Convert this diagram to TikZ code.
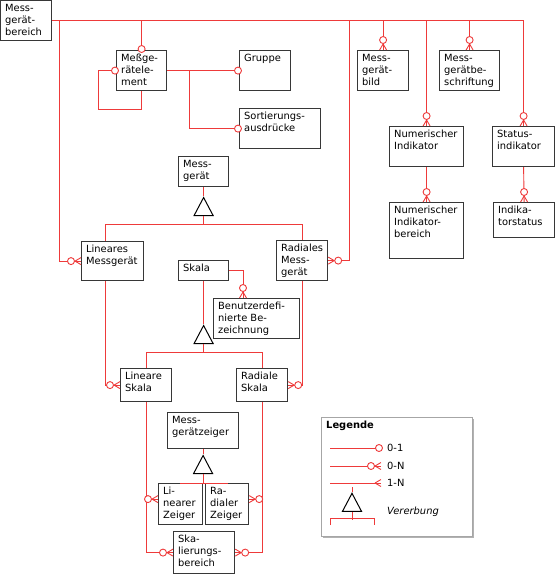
\documentclass[tikz,border=0pt]{standalone}
\usepackage{fontspec}
\setmainfont{DejaVu Sans}
\usetikzlibrary{shapes.geometric}
\definecolor{relrot}{RGB}{238,58,58}
\definecolor{rahmen}{RGB}{55,55,55}
\newcommand{\schrift}{\fontsize{9.9}{12}\selectfont}

\tikzset{
	kasten/.style 2 args={draw=rahmen, line width=1.2pt, fill=white, anchor=north west, minimum width=#1, minimum height=#2, inner sep=0pt},
	txt/.style={anchor=north west, align=left, inner xsep=5pt, inner ysep=4pt, font=\schrift},
	rel/.style={draw=relrot, line width=0.9pt},
	vererb/.style={isosceles triangle, shape border rotate=90, isosceles triangle stretches, draw=black, line width=1pt, fill=white, minimum width=19pt, minimum height=18pt, inner sep=0pt, anchor=apex},
	pics/nullN/.style={code={
		\draw[relrot, line width=0.9pt] (-6,0) -- (0,3.5) (-6,0) -- (0,-3.5);
		\draw[relrot, line width=0.9pt, fill=white] (-10,0) circle (3.5pt);}},
	pics/einsN/.style={code={
		\draw[relrot, line width=0.9pt] (-6,0) -- (0,3.5) (-6,0) -- (0,-3.5);}},
	pics/null1/.style={code={
		\draw[relrot, line width=0.9pt, fill=white] (-1,0) circle (3.5pt);}},
}

\begin{document}
\begin{tikzpicture}[x=1pt, y=-1pt]
	\useasboundingbox (0,0) rectangle (556,574);
	% Kaesten
	\node[kasten={51}{40}, label={[txt]north west:Mess-\\gerät-\\bereich}] (bereich) at (0,0) {};
	\node[kasten={50}{40}, label={[txt]north west:Meßge-\\rätele-\\ment}] (elem) at (116,50) {};
	\node[kasten={51}{40}, label={[txt]north west:Gruppe}] (gruppe) at (239,50) {};
	\node[kasten={81}{40}, label={[txt]north west:Sortierungs-\\ausdrücke}] (sort) at (239,108) {};
	\node[kasten={51}{40}, label={[txt]north west:Mess-\\gerät-\\bild}] (bild) at (357,50) {};
	\node[kasten={60}{40}, label={[txt]north west:Mess-\\gerätbe-\\schriftung}] (beschr) at (439,50) {};
	\node[kasten={74}{40}, label={[txt]north west:Numerischer\\Indikator}] (numind) at (389,126) {};
	\node[kasten={62}{40}, label={[txt]north west:Status-\\indikator}] (statind) at (492,126) {};
	\node[kasten={74}{56}, label={[txt]north west:Numerischer\\Indikator-\\bereich}] (number) at (389,202) {};
	\node[kasten={61}{35}, label={[txt]north west:Indika-\\torstatus}] (indstat) at (493,202) {};
	\node[kasten={50}{30}, label={[txt]north west:Mess-\\gerät}] (mg) at (178,156) {};
	\node[kasten={62}{39}, label={[txt]north west:Lineares\\Messgerät}] (linmg) at (81,241) {};
	\node[kasten={51}{40}, label={[txt]north west:Radiales\\Mess-\\gerät}] (radmg) at (276,240) {};
	\node[kasten={50}{20}, label={[txt]north west:Skala}] (skala) at (178,260) {};
	\node[kasten={86}{40}, label={[txt]north west:Benutzerdefi-\\nierte Be-\\zeichnung}] (benutzer) at (213,298) {};
	\node[kasten={51}{33}, label={[txt]north west:Lineare\\Skala}] (linskala) at (120,368) {};
	\node[kasten={51}{33}, label={[txt]north west:Radiale\\Skala}] (radskala) at (236,368) {};
	\node[kasten={71}{36}, label={[txt]north west:Mess-\\gerätzeiger}] (zeiger) at (167,412) {};
	\node[kasten={44}{41}, label={[txt]north west:Li-\\nearer\\Zeiger}] (linzeiger) at (158,483) {};
	\node[kasten={43}{41}, label={[txt]north west:Ra-\\dialer\\Zeiger}] (radzeiger) at (205,483) {};
	\node[kasten={61}{42}, label={[txt]north west:Ska-\\lierungs-\\bereich}] (skbereich) at (173,531) {};

	% Vererbung
	\node[vererb] (d1) at ([yshift=-9pt]mg.south) {};
	\node[vererb] (d2) at ([yshift=-43pt]skala.south) {};
	\node[vererb] (d3) at ([yshift=-5pt]zeiger.south) {};

	% Beziehungen
	\draw[rel] (bereich.east) -| (elem.north);
	\draw[rel] (bereich.east) -| (bild.north);
	\draw[rel] (bereich.east) -| (beschr.north);
	\draw[rel] (bereich.east) -| (numind.north);
	\draw[rel] (bereich.east) -| (statind.north);
	\draw[rel] (bereich.east) -| ([xshift=-22pt]linmg.west) -- (linmg.west);
	\draw[rel] (bereich.east) -| ([xshift=21pt]radmg.east) -- (radmg.east);
	\draw[rel] (elem.east) -- (gruppe.west);
	\draw[rel] ([xshift=22pt]elem.east) |- (sort.west);
	\draw[rel] (elem.south) -- ++(0,18) -| ([xshift=-18pt]elem.west) -- (elem.west);
	\draw[rel] (numind.south) -- (number.north);
	\draw[rel] (statind.south) -- (indstat.north);

	\draw[rel] (mg.south) -- (d1.apex);
	\draw[rel] (d1.lower side) -- ++(0,8) coordinate (g1);
	\draw[rel] (g1) -| ([xshift=-7pt]linmg.north);
	\draw[rel] (g1) -| (radmg.north);
	\draw[rel] ([xshift=-7pt]linmg.south) |- (linskala.west);
	\draw[rel] (radmg.south) |- (radskala.east);

	\draw[rel] (skala.east) -| ([xshift=30pt]benutzer.north west);
	\draw[rel] (skala.south) -- (d2.apex);
	\draw[rel] (d2.lower side) -- ++(0,8) coordinate (g2);
	\draw[rel] (g2) -| (linskala.north);
	\draw[rel] (g2) -| (radskala.north);

	\draw[rel] (zeiger.south) -- (d3.apex);
	\draw[rel] (d3.lower side) -- ++(0,9) coordinate (g3);
	\draw[rel] (g3) -| (linzeiger.north);
	\draw[rel] (g3) -| (radzeiger.north);
	\draw[rel] (linskala.south) |- ([yshift=5pt]linzeiger.west);
	\draw[rel] (linskala.south) |- (skbereich.west);
	\draw[rel] (radskala.south) |- ([yshift=5pt]radzeiger.east);
	\draw[rel] (radskala.south) |- (skbereich.east);

	% Enden
	\pic[rotate=-90] at (elem.north) {null1};
	\pic at (elem.west) {null1};
	\pic at (gruppe.west) {null1};
	\pic at (sort.west) {null1};
	\pic[rotate=-90] at (bild.north) {nullN};
	\pic[rotate=-90] at (beschr.north) {nullN};
	\pic[rotate=-90] at (numind.north) {nullN};
	\pic[rotate=-90] at (statind.north) {nullN};
	\pic[rotate=-90] at (number.north) {nullN};
	\pic[rotate=-90] at (indstat.north) {nullN};
	\pic[rotate=-90] at ([xshift=30pt]benutzer.north west) {nullN};
	\pic at (linmg.west) {nullN};
	\pic at (linskala.west) {nullN};
	\pic at ([yshift=5pt]linzeiger.west) {nullN};
	\pic at (skbereich.west) {nullN};
	\pic[rotate=180] at (radmg.east) {nullN};
	\pic[rotate=180] at (radskala.east) {nullN};
	\pic[rotate=180] at ([yshift=5pt]radzeiger.east) {nullN};
	\pic[rotate=180] at (skbereich.east) {nullN};

	% Legende
	\fill[black!30] (323,419) rectangle (474,538);
	\node[kasten={151}{119}, draw=black!35, line width=0.8pt] (legende) at (321,417) {};
	\node[txt, font=\schrift\bfseries] (titel) at (321,417) {Legende};
	\coordinate (l1) at (330,448);
	\coordinate (l2) at (330,466);
	\coordinate (l3) at (330,483);
	\draw[rel] (l1) -- ++(49,0) coordinate (e1);
	\draw[rel] (l2) -- ++(51,0) coordinate (e2);
	\draw[rel] (l3) -- ++(51,0) coordinate (e3);
	\pic at ([xshift=1pt]e1) {null1};
	\pic at (e2) {nullN};
	\pic at (e3) {einsN};
	\node[anchor=west, font=\schrift, inner sep=0pt] (t1) at (387,448) {0-1};
	\node[anchor=west, font=\schrift, inner sep=0pt] (t2) at (387,466) {0-N};
	\node[anchor=west, font=\schrift, inner sep=0pt] (t3) at (387,483) {1-N};
	\node[vererb] (d4) at (352,492) {};
	\draw[rel] (d4.apex) -- ++(0,-5);
	\draw[rel] (d4.lower side) -- ++(0,8);
	\draw[rel] (330,525) |- (374,518) -- (374,525);
	\node[anchor=west, font=\schrift\itshape, inner sep=0pt] (t4) at (387,512) {Vererbung};
\end{tikzpicture}
\end{document}
